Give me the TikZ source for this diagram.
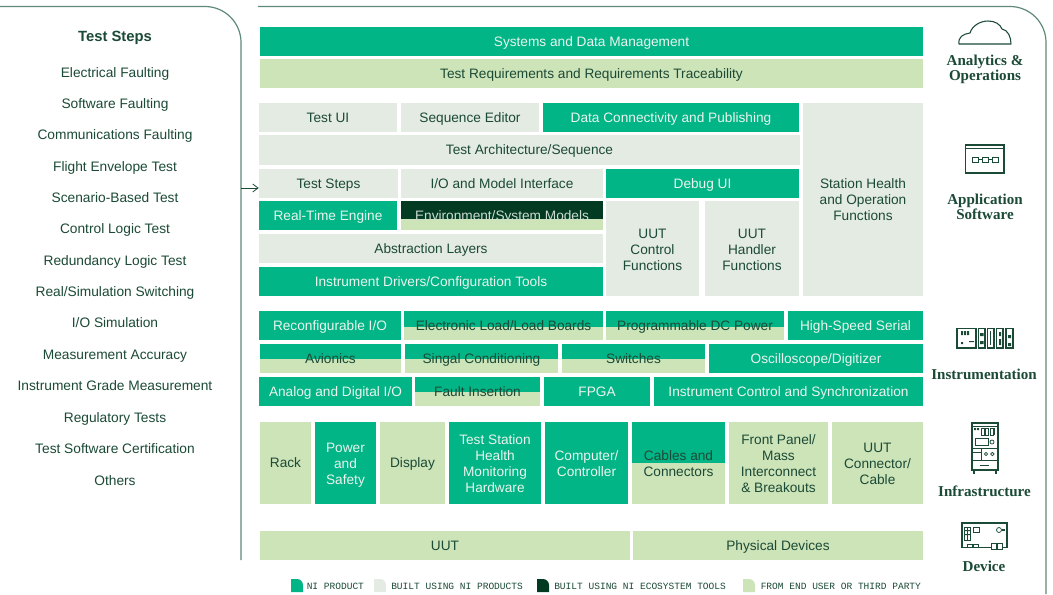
\documentclass[tikz,border=0pt]{standalone}
\usepackage{fontspec}
\setmainfont{Liberation Sans}
\newfontfamily\labelfont{Liberation Serif}
\newfontfamily\legendfont{Liberation Mono}
\usetikzlibrary{arrows.meta}
\definecolor{nigreen}{HTML}{02B586}
\definecolor{builtgrey}{HTML}{E4EBE2}
\definecolor{thirdlime}{HTML}{CDE3B8}
\definecolor{ecodark}{HTML}{033B22}
\definecolor{ink}{HTML}{1B4A36}
\definecolor{paleink}{HTML}{EAF5EE}
\definecolor{rulegreen}{HTML}{5E8A78}
\newcommand{\cellstrut}{\rule[-2pt]{0pt}{11pt}}
\newcommand{\tallstrut}{\rule{0pt}{11.2pt}}
\newcommand{\midstrut}{\rule{0pt}{10.5pt}}
\newcommand{\bx}[7]{%
  \pgfmathsetmacro\bxW{(#4-#2)*0.75}%
  \pgfmathsetmacro\bxH{(#5-#3)*0.75}%
  \node[#6,minimum width=\bxW pt,minimum height=\bxH pt] (#1) at ({(#2+#4)/2},{(#3+#5)/2}) {\cellstrut#7\cellstrut};}
\tikzset{
  x=0.75pt,y=-0.75pt,
  cell/.style={rectangle,inner sep=0pt,align=center,font=\fontsize{10.25pt}{12pt}\selectfont},
  nibox/.style={cell,fill=nigreen,text=paleink},
  builtbox/.style={cell,fill=builtgrey,text=ink},
  limebox/.style={cell,fill=thirdlime,text=ink},
  splitbox/.style={cell,fill=thirdlime,text=ink,path picture={\fill[nigreen] (path picture bounding box.north west) rectangle ([yshift=-#1]path picture bounding box.north east);}},
  darksplit/.style={cell,fill=thirdlime,text=paleink!85!ink,path picture={\fill[ecodark] (path picture bounding box.north west) rectangle ([yshift=-#1]path picture bounding box.north east);}},
  stepitem/.style={text=ink,inner sep=0pt,yshift=-0.4pt,text height=9pt,text depth=2pt,font=\fontsize{10.3pt}{12pt}\selectfont},
  steptitle/.style={text=ink,inner sep=0pt,yshift=-0.7pt,text height=9pt,text depth=2pt,font=\fontsize{11.1pt}{12pt}\selectfont\bfseries},
  layerlabel/.style={text=ink,inner sep=0pt,align=center,font=\fontsize{11.3pt}{11.25pt}\labelfont\bfseries},
  legendtext/.style={text=ink,inner sep=0pt,anchor=west,text height=5pt,text depth=1pt,font=\fontsize{7.15pt}{8pt}\legendfont},
  panelrule/.style={draw=rulegreen,line width=0.9pt},
  icon/.style={draw=ink,line width=0.8pt},
  iconfine/.style={draw=ink,line width=0.55pt},
}
\begin{document}
\begin{tikzpicture}
\useasboundingbox (0,0) rectangle (1053,594);
\fill[white] (0,0) rectangle (1053,594);

% panel outlines
\draw[panelrule] (0,6.5) -- (205,6.5) arc[start angle=-90,end angle=0,radius=36] -- (241,560);
\draw[panelrule] (258,6.5) -- (1010,6.5) arc[start angle=-90,end angle=0,radius=36] -- (1046,594);

% left column
\node[steptitle] (title) at (115,36) {Test Steps};
\node[stepitem] (s1) at (115,72) {Electrical Faulting};
\node[stepitem] (s2) at (115,103) {Software Faulting};
\node[stepitem] (s3) at (115,134.5) {Communications Faulting};
\node[stepitem] (s4) at (115,166) {Flight Envelope Test};
\node[stepitem] (s5) at (115,197.5) {Scenario-Based Test};
\node[stepitem] (s6) at (115,228.5) {Control Logic Test};
\node[stepitem] (s7) at (115,260) {Redundancy Logic Test};
\node[stepitem] (s8) at (115,291.5) {Real/Simulation Switching};
\node[stepitem] (s9) at (115,322.5) {I/O Simulation};
\node[stepitem] (s10) at (115,354) {Measurement Accuracy};
\node[stepitem] (s11) at (115,385.5) {Instrument Grade Measurement};
\node[stepitem] (s12) at (115,417) {Regulatory Tests};
\node[stepitem] (s13) at (115,448.5) {Test Software Certification};
\node[stepitem] (s14) at (115,480) {Others};

% top
\bx{sysdata}{260}{27}{923}{56}{nibox}{Systems and Data Management}
\bx{reqs}{260}{59}{923}{88}{limebox}{Test Requirements and Requirements Traceability}

% application software
\bx{testui}{259}{103}{397}{132}{builtbox}{Test UI}
\bx{seqed}{401}{103}{539}{132}{builtbox}{Sequence Editor}
\bx{datacon}{543}{103}{799}{132}{nibox}{Data Connectivity and Publishing}
\bx{arch}{259}{135}{800}{165}{builtbox}{Test Architecture/Sequence}
\bx{tsteps}{259}{169}{398}{198}{builtbox}{Test Steps}
\bx{iomodel}{401}{169}{603}{198}{builtbox}{I/O and Model Interface}
\bx{debugui}{606}{169}{799}{198}{nibox}{Debug UI}
\bx{rte}{259}{201}{397}{230}{nibox}{Real-Time Engine}
\bx{envmod}{401}{201}{603}{230}{darksplit=13.5pt}{Environment/System Models}
\bx{abstr}{259}{234}{603}{263}{builtbox}{Abstraction Layers}
\bx{drivers}{259}{267}{603}{296}{nibox}{Instrument Drivers/Configuration Tools}
\bx{uutctl}{606}{201}{699}{296}{builtbox}{\midstrut UUT\\Control\\Functions}
\bx{uuthand}{705}{201}{799}{296}{builtbox}{\midstrut UUT\\Handler\\Functions}
\bx{health}{803}{103}{923}{296}{builtbox}{Station Health\\and Operation\\Functions}

% instrumentation
\bx{reconf}{259}{311}{401}{340}{nibox}{Reconfigurable I/O}
\bx{eload}{404}{311}{603}{340}{splitbox=12pt}{Electronic Load/Load Boards}
\bx{dcpower}{606}{311}{784}{340}{splitbox=12pt}{Programmable DC Power}
\bx{hsserial}{788}{311}{923}{340}{nibox}{High-Speed Serial}
\bx{avionics}{260}{344}{401}{373}{splitbox=11.5pt}{Avionics}
\bx{signal}{405}{344}{558}{373}{splitbox=11.5pt}{Singal Conditioning}
\bx{switches}{562}{344}{705}{373}{splitbox=11.5pt}{Switches}
\bx{scope}{709}{344}{923}{373}{nibox}{Oscilloscope/Digitizer}
\bx{analog}{259}{377}{412}{406}{nibox}{Analog and Digital I/O}
\bx{fault}{415}{377}{540}{406}{splitbox=11.5pt}{Fault Insertion}
\bx{fpga}{544}{377}{650}{406}{nibox}{FPGA}
\bx{sync}{654}{377}{923}{406}{nibox}{Instrument Control and Synchronization}

% infrastructure
\bx{rack}{260}{421.5}{311}{503.5}{limebox}{Rack}
\bx{power}{315}{421.5}{376}{503.5}{nibox}{\tallstrut Power\\and\\Safety}
\bx{display}{380}{421.5}{445}{503.5}{limebox}{Display}
\bx{monitor}{449}{421.5}{541}{503.5}{nibox}{\tallstrut Test Station\\Health\\Monitoring\\Hardware}
\bx{computer}{545}{421.5}{628}{503.5}{nibox}{\tallstrut Computer/\\Controller}
\bx{cables}{632}{421.5}{725}{503.5}{splitbox=31.3pt}{\tallstrut Cables and\\Connectors}
\bx{front}{729}{421.5}{828}{503.5}{limebox}{\tallstrut Front Panel/\\Mass\\Interconnect\\\& Breakouts}
\bx{uutconn}{832}{421.5}{923}{503.5}{limebox}{\tallstrut UUT\\Connector/\\Cable}

% device
\bx{uut}{260}{531}{630}{560}{limebox}{UUT}
\bx{physical}{633}{531}{923}{560}{limebox}{Physical Devices}

% connector
\coordinate (armstart) at (241,188);
\draw[draw=ink,line width=0.6pt,-{Straight Barb[length=4pt,width=6pt]}] (armstart) -- (armstart -| tsteps.west);

% layer labels
\node[layerlabel] (lab1) at (985,69) {Analytics \&\\Operations};
\node[layerlabel] (lab2) at (985,206.5) {Application\\Software};
\node[layerlabel] (lab3) at (984,374) {Instrumentation};
\node[layerlabel] (lab4) at (984.5,491) {Infrastructure};
\node[layerlabel] (lab5) at (984,566) {Device};

% cloud
\draw[icon,line join=round] (959,44) .. controls (958,37) and (963,34) .. (970,33) .. controls (972,26) and (980,21) .. (988,21) .. controls (995,21) and (1000,24) .. (1002,29) .. controls (1008,30) and (1011,37) .. (1011,44) -- cycle;

% application window
\draw[icon] (965.5,145) rectangle (1004,173);
\draw[iconfine] (965.5,148) -- (1004,148);
\draw[iconfine] (972,157) rectangle (978,162) (982,157) rectangle (988,162) (992,157) rectangle (998,162);
\draw[iconfine] (978,159.5) -- (982,159.5) (988,159.5) -- (992,159.5);

% instrumentation chassis
\draw[icon] (957,328.5) rectangle (976,348);
\draw[icon] (978.5,328.5) rectangle (985,348) (987.5,328.5) rectangle (994,348) (996.5,328.5) rectangle (1003,348) (1006,328.5) rectangle (1013,348);
\fill[ink] (961,331) rectangle (963,335) (964,331) rectangle (966,335) (967,331) rectangle (969,335) (961,342) rectangle (963,344) (969,341) rectangle (974,342);
\fill[ink] (980,333) rectangle (983.5,336) (980,341) rectangle (983.5,344);
\draw[iconfine] (990.7,331) -- (990.7,345);
\fill[ink] (999,332) rectangle (1001,336) (999,339) rectangle (1001,345);
\fill[ink] (1008,335) rectangle (1011,338) (1008,343) rectangle (1011,346);

% rack
\draw[icon] (972,423) rectangle (998,470);
\draw[iconfine] (972,426) -- (998,426);
\draw[icon] (974,470) -- (974,474) (996,470) -- (996,474);
\fill[ink] (974,428) rectangle (976,430) (977,428) rectangle (979,430);
\draw[iconfine] (981,428) rectangle (984,435) (985.5,428) rectangle (988.5,435) (990,428) rectangle (993,435) (994.5,428) -- (994.5,435);
\draw[iconfine] (975,438.5) rectangle (988,445.5);
\draw[iconfine] (992,442) circle[radius=2];
\draw[iconfine] (972,448) -- (998,448) (981,448) -- (981,460) (972,452) -- (981,452);
\draw[iconfine] (986,454) circle[radius=1.7] (992.3,454) circle[radius=1.7];
\draw[iconfine] (972,460) -- (998,460) (980,465) -- (989,465);

% device board
\draw[icon] (1002,547.5) -- (1007,547.5) -- (1007,523) -- (962,523) -- (962,547.5) -- (991,547.5);
\draw[iconfine] (964.5,527) rectangle (967,540) (967.5,527) rectangle (970,540);
\fill[ink] (965,530) rectangle (970,531) (965,534) rectangle (970,535);
\draw[iconfine] (973,527) rectangle (979,532);
\draw[iconfine] (999,530) circle[radius=2.5];
\draw[icon] (1001.5,530) -- (1005,530);
\draw[iconfine] (967,547.5) -- (967,544.5) -- (972,544.5) -- (972,547.5) (973,547.5) -- (973,544.5) -- (978,544.5) -- (978,547.5);
\draw[iconfine] (991,543.5) rectangle (996,549.5) (997,543.5) rectangle (1002,549.5);

% legend
\fill[nigreen] (291,592) |- (297,579) arc[start angle=-90,end angle=0,radius=6] -- (303,592) -- cycle;
\node[legendtext] (leg1) at (306.5,587) {NI PRODUCT};
\fill[builtgrey] (374,592) |- (380,579) arc[start angle=-90,end angle=0,radius=6] -- (386,592) -- cycle;
\node[legendtext] (leg2) at (391,587) {BUILT USING NI PRODUCTS};
\fill[ecodark] (537,592) |- (543,579) arc[start angle=-90,end angle=0,radius=6] -- (549,592) -- cycle;
\node[legendtext] (leg3) at (554,587) {BUILT USING NI ECOSYSTEM TOOLS};
\fill[thirdlime] (743,592) |- (749,579) arc[start angle=-90,end angle=0,radius=6] -- (755,592) -- cycle;
\node[legendtext] (leg4) at (760.5,587) {FROM END USER OR THIRD PARTY};
\end{tikzpicture}
\end{document}
